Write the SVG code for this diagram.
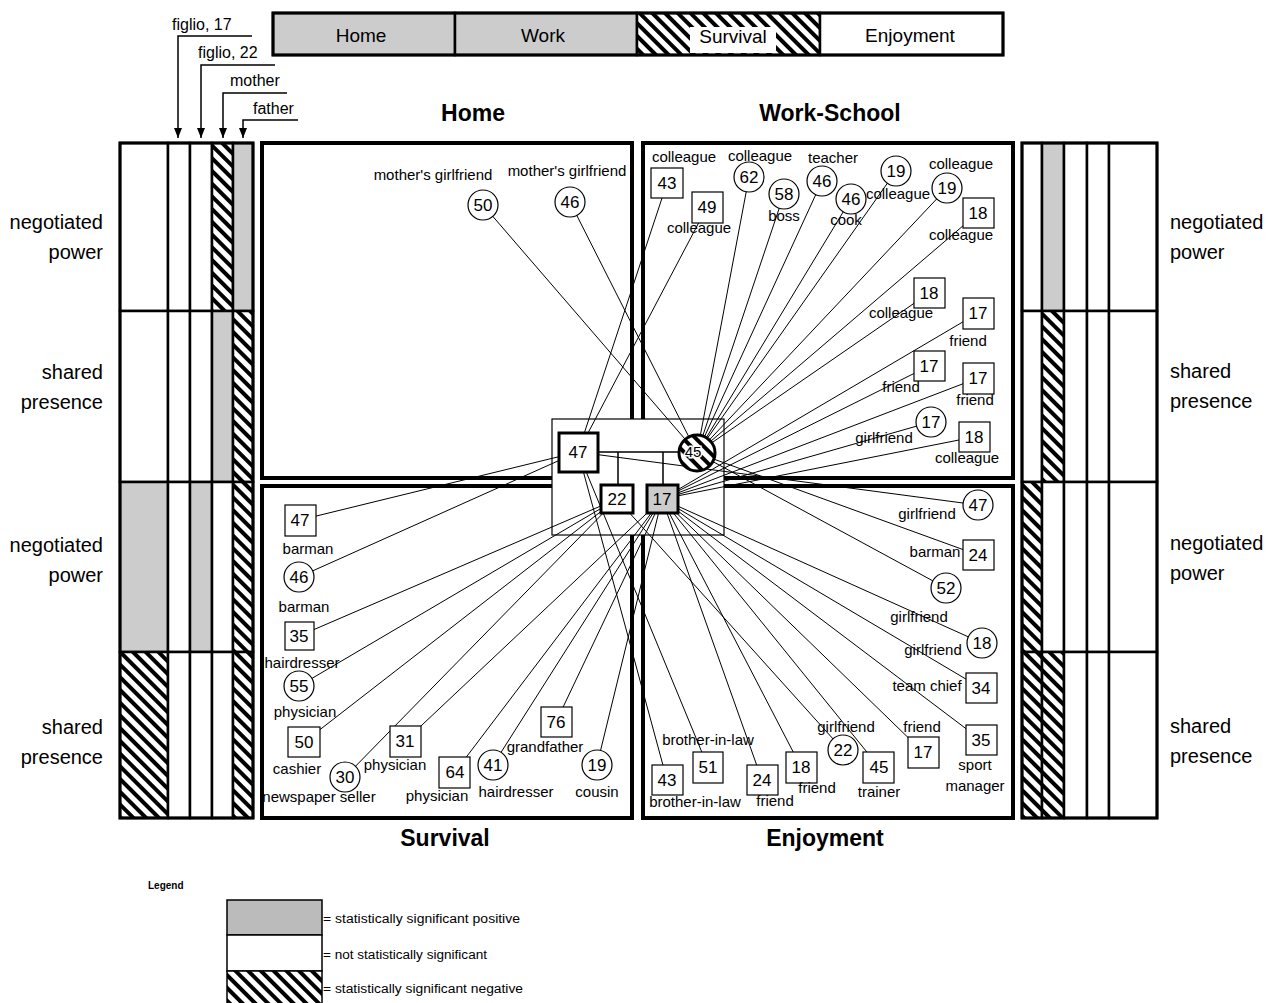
<svg xmlns="http://www.w3.org/2000/svg" width="1276" height="1003" viewBox="0 0 1276 1003">
<defs>
<pattern id="hatch" patternUnits="userSpaceOnUse" width="9" height="9" patternTransform="rotate(-45)"><rect width="9" height="9" fill="#fff"/><rect width="4" height="9" fill="#000"/></pattern>
<marker id="ah" viewBox="0 0 10 8" refX="10" refY="4" markerWidth="10" markerHeight="8" markerUnits="userSpaceOnUse" orient="auto"><path d="M0,0 L10,4 L0,8 z" fill="#000"/></marker>
</defs>
<style>
text{font-family:"Liberation Sans",Arial,sans-serif;fill:#000}
.cell{stroke:#000;stroke-width:2.5}
.w{fill:#fff}.g{fill:#cccccc}.h{fill:url(#hatch)}
.q{fill:none;stroke:#000;stroke-width:4}
.cn line{stroke:#000;stroke-width:1}
.n{fill:#fff;stroke:#000;stroke-width:1.2}
.k{fill:#fff;stroke:#000;stroke-width:3}
.num{font-size:17px;text-anchor:middle}
.lb{font-size:15px;text-anchor:middle}
.side{font-size:20px}
.title{font-size:23px;font-weight:bold;text-anchor:middle}
.bar{font-size:19px;text-anchor:middle}
.arr{font-size:16px}
.leg{font-size:12px}
</style>
<rect width="1276" height="1003" fill="#fff"/>

<!-- top legend bar -->
<g id="topbar">
<rect class="cell g" x="273" y="13" width="182" height="42"/>
<rect class="cell g" x="455" y="13" width="182" height="42"/>
<rect class="cell h" x="637" y="13" width="183" height="42"/>
<rect x="690" y="27" width="86" height="26" fill="#fff"/>
<rect class="cell w" x="820" y="13" width="183" height="42"/>
<rect x="273" y="13" width="730" height="42" fill="none" stroke="#000" stroke-width="3"/>
<text class="bar" x="361" y="42">Home</text>
<text class="bar" x="543" y="42">Work</text>
<text class="bar" x="733" y="43">Survival</text>
<text class="bar" x="910" y="42">Enjoyment</text>
</g>

<!-- arrows to left bar -->
<g id="arrows" fill="none" stroke="#000" stroke-width="1.5">
<path d="M252,36 H178 V138" marker-end="url(#ah)"/>
<path d="M275,65 H201 V138" marker-end="url(#ah)"/>
<path d="M287,93 H223 V138" marker-end="url(#ah)"/>
<path d="M298,120 H243 V138" marker-end="url(#ah)"/>
</g>
<text class="arr" x="172" y="30">figlio, 17</text>
<text class="arr" x="198" y="58">figlio, 22</text>
<text class="arr" x="230" y="86">mother</text>
<text class="arr" x="253" y="114">father</text>

<!-- left bar -->
<g id="leftbar">
<rect class="cell w" x="120" y="143" width="48" height="168"/>
<rect class="cell w" x="168" y="143" width="22" height="168"/>
<rect class="cell w" x="190" y="143" width="22" height="168"/>
<rect class="cell h" x="212" y="143" width="21" height="168"/>
<rect class="cell g" x="233" y="143" width="20" height="168"/>
<rect class="cell w" x="120" y="311" width="48" height="171"/>
<rect class="cell w" x="168" y="311" width="22" height="171"/>
<rect class="cell w" x="190" y="311" width="22" height="171"/>
<rect class="cell g" x="212" y="311" width="21" height="171"/>
<rect class="cell h" x="233" y="311" width="20" height="171"/>
<rect class="cell g" x="120" y="482" width="48" height="170"/>
<rect class="cell w" x="168" y="482" width="22" height="170"/>
<rect class="cell g" x="190" y="482" width="22" height="170"/>
<rect class="cell w" x="212" y="482" width="21" height="170"/>
<rect class="cell h" x="233" y="482" width="20" height="170"/>
<rect class="cell h" x="120" y="652" width="48" height="166"/>
<rect class="cell w" x="168" y="652" width="22" height="166"/>
<rect class="cell w" x="190" y="652" width="22" height="166"/>
<rect class="cell w" x="212" y="652" width="21" height="166"/>
<rect class="cell h" x="233" y="652" width="20" height="166"/>
<rect x="120" y="143" width="133" height="675" fill="none" stroke="#000" stroke-width="3"/>
</g>

<!-- right bar -->
<g id="rightbar">
<rect class="cell w" x="1022" y="143" width="20" height="168"/>
<rect class="cell g" x="1042" y="143" width="22" height="168"/>
<rect class="cell w" x="1064" y="143" width="23" height="168"/>
<rect class="cell w" x="1087" y="143" width="22" height="168"/>
<rect class="cell w" x="1109" y="143" width="48" height="168"/>
<rect class="cell w" x="1022" y="311" width="20" height="171"/>
<rect class="cell h" x="1042" y="311" width="22" height="171"/>
<rect class="cell w" x="1064" y="311" width="23" height="171"/>
<rect class="cell w" x="1087" y="311" width="22" height="171"/>
<rect class="cell w" x="1109" y="311" width="48" height="171"/>
<rect class="cell h" x="1022" y="482" width="20" height="170"/>
<rect class="cell w" x="1042" y="482" width="22" height="170"/>
<rect class="cell w" x="1064" y="482" width="23" height="170"/>
<rect class="cell w" x="1087" y="482" width="22" height="170"/>
<rect class="cell w" x="1109" y="482" width="48" height="170"/>
<rect class="cell h" x="1022" y="652" width="20" height="166"/>
<rect class="cell h" x="1042" y="652" width="22" height="166"/>
<rect class="cell w" x="1064" y="652" width="23" height="166"/>
<rect class="cell w" x="1087" y="652" width="22" height="166"/>
<rect class="cell w" x="1109" y="652" width="48" height="166"/>
<rect x="1022" y="143" width="135" height="675" fill="none" stroke="#000" stroke-width="3"/>
</g>

<!-- side labels -->
<g id="sidelabels" class="side">
<text x="103" y="229" text-anchor="end">negotiated</text>
<text x="103" y="259" text-anchor="end">power</text>
<text x="103" y="379" text-anchor="end">shared</text>
<text x="103" y="409" text-anchor="end">presence</text>
<text x="103" y="552" text-anchor="end">negotiated</text>
<text x="103" y="582" text-anchor="end">power</text>
<text x="103" y="734" text-anchor="end">shared</text>
<text x="103" y="764" text-anchor="end">presence</text>
<text x="1170" y="229">negotiated</text>
<text x="1170" y="259">power</text>
<text x="1170" y="378">shared</text>
<text x="1170" y="408">presence</text>
<text x="1170" y="550">negotiated</text>
<text x="1170" y="580">power</text>
<text x="1170" y="733">shared</text>
<text x="1170" y="763">presence</text>
</g>

<!-- quadrants -->
<g id="quadrants">
<rect class="q" x="262" y="143" width="370" height="335"/>
<rect class="q" x="643" y="143" width="370" height="335"/>
<rect class="q" x="262" y="486" width="370" height="332"/>
<rect class="q" x="643" y="486" width="370" height="332"/>
<text class="title" x="473" y="121">Home</text>
<text class="title" x="830" y="121">Work-School</text>
<text class="title" x="445" y="846">Survival</text>
<text class="title" x="825" y="846">Enjoyment</text>
</g>

<rect id="centerbox" x="552" y="419" width="172" height="116" fill="#fff" stroke="#000" stroke-width="1.2"/>

<!-- connectors -->
<g id="connectors" class="cn">
<line x1="483" y1="205" x2="697" y2="453"/>
<line x1="570" y1="202" x2="697" y2="453"/>
<line x1="667" y1="183" x2="578" y2="452"/>
<line x1="707" y1="207" x2="578" y2="452"/>
<line x1="749" y1="177" x2="697" y2="453"/>
<line x1="784" y1="194" x2="697" y2="453"/>
<line x1="822" y1="181" x2="697" y2="453"/>
<line x1="851" y1="199" x2="697" y2="453"/>
<line x1="896" y1="171" x2="697" y2="453"/>
<line x1="947" y1="188" x2="697" y2="453"/>
<line x1="978" y1="213" x2="697" y2="453"/>
<line x1="929" y1="293" x2="697" y2="453"/>
<line x1="978" y1="313" x2="662" y2="499"/>
<line x1="929" y1="366" x2="662" y2="499"/>
<line x1="978" y1="378" x2="662" y2="499"/>
<line x1="931" y1="422" x2="662" y2="499"/>
<line x1="974" y1="437" x2="662" y2="499"/>
<line x1="300" y1="520" x2="578" y2="452"/>
<line x1="299" y1="577" x2="578" y2="452"/>
<line x1="299" y1="636" x2="617" y2="499"/>
<line x1="299" y1="686" x2="617" y2="499"/>
<line x1="304" y1="742" x2="617" y2="499"/>
<line x1="345" y1="777" x2="617" y2="499"/>
<line x1="405" y1="741" x2="662" y2="499"/>
<line x1="455" y1="772" x2="662" y2="499"/>
<line x1="493" y1="765" x2="662" y2="499"/>
<line x1="556" y1="722" x2="662" y2="499"/>
<line x1="597" y1="765" x2="662" y2="499"/>
<line x1="978" y1="505" x2="578" y2="452"/>
<line x1="978" y1="555" x2="697" y2="453"/>
<line x1="946" y1="588" x2="697" y2="453"/>
<line x1="982" y1="643" x2="662" y2="499"/>
<line x1="981" y1="688" x2="662" y2="499"/>
<line x1="981" y1="740" x2="662" y2="499"/>
<line x1="923" y1="752" x2="662" y2="499"/>
<line x1="879" y1="767" x2="662" y2="499"/>
<line x1="843" y1="750" x2="617" y2="499"/>
<line x1="801" y1="767" x2="662" y2="499"/>
<line x1="762" y1="780" x2="662" y2="499"/>
<line x1="708" y1="767" x2="578" y2="452"/>
<line x1="667" y1="780" x2="578" y2="452"/>
</g>

<!-- family structure -->
<g id="family" fill="none" stroke="#000" stroke-width="1.5">
<path d="M598,452 H680 M618,452 V485 M663,452 V485"/>
</g>
<g id="father"><rect class="k" x="559" y="433" width="39" height="39"/><text class="num" x="578" y="458">47</text></g>
<g id="mother"><circle cx="697" cy="453" r="18" fill="url(#hatch)" stroke="#000" stroke-width="3"/><text x="693" y="457" font-size="15" text-anchor="middle" stroke="#fff" stroke-width="3" paint-order="stroke">45</text></g>
<g id="son22"><rect class="k" x="601" y="485" width="32" height="28"/><text class="num" x="617" y="505">22</text></g>
<g id="son17"><rect class="k" x="647" y="485" width="31" height="28" style="fill:#cccccc"/><text class="num" x="662" y="505">17</text></g>

<!-- Home nodes -->
<g id="h1"><circle class="n" cx="483" cy="205" r="15"/><text class="num" x="483" y="211">50</text><text class="lb" x="433" y="180" font-size="14.5">mother's girlfriend</text></g>
<g id="h2"><circle class="n" cx="570" cy="202" r="15"/><text class="num" x="570" y="208">46</text><text class="lb" x="567" y="176" font-size="14.5">mother's girlfriend</text></g>

<!-- Work-School nodes -->
<g id="w1"><rect class="n" x="651" y="168" width="32" height="30"/><text class="num" x="667" y="189">43</text><text class="lb" x="684" y="162">colleague</text></g>
<g id="w2"><rect class="n" x="692" y="192" width="31" height="31"/><text class="num" x="707" y="213">49</text><text class="lb" x="699" y="233">colleague</text></g>
<g id="w3"><circle class="n" cx="749" cy="177" r="15"/><text class="num" x="749" y="183">62</text><text class="lb" x="760" y="161">colleague</text></g>
<g id="w4"><circle class="n" cx="784" cy="194" r="15"/><text class="num" x="784" y="200">58</text><text class="lb" x="784" y="221">boss</text></g>
<g id="w5"><circle class="n" cx="822" cy="181" r="15"/><text class="num" x="822" y="187">46</text><text class="lb" x="833" y="163">teacher</text></g>
<g id="w6"><circle class="n" cx="851" cy="199" r="15"/><text class="num" x="851" y="205">46</text><text class="lb" x="846" y="225">cook</text></g>
<g id="w7"><circle class="n" cx="896" cy="171" r="15"/><text class="num" x="896" y="177">19</text><text class="lb" x="898" y="199">colleague</text></g>
<g id="w8"><circle class="n" cx="947" cy="188" r="15"/><text class="num" x="947" y="194">19</text><text class="lb" x="961" y="169">colleague</text></g>
<g id="w9"><rect class="n" x="963" y="198" width="31" height="30"/><text class="num" x="978" y="219">18</text><text class="lb" x="961" y="240">colleague</text></g>
<g id="w10"><rect class="n" x="914" y="278" width="31" height="30"/><text class="num" x="929" y="299">18</text><text class="lb" x="901" y="318">colleague</text></g>
<g id="w11"><rect class="n" x="963" y="298" width="31" height="31"/><text class="num" x="978" y="319">17</text><text class="lb" x="968" y="346">friend</text></g>
<g id="w12"><rect class="n" x="914" y="351" width="31" height="30"/><text class="num" x="929" y="372">17</text><text class="lb" x="901" y="392">friend</text></g>
<g id="w13"><rect class="n" x="963" y="363" width="31" height="31"/><text class="num" x="978" y="384">17</text><text class="lb" x="975" y="405">friend</text></g>
<g id="w14"><circle class="n" cx="931" cy="422" r="15"/><text class="num" x="931" y="428">17</text><text class="lb" x="884" y="443">girlfriend</text></g>
<g id="w15"><rect class="n" x="959" y="422" width="31" height="30"/><text class="num" x="974" y="443">18</text><text class="lb" x="967" y="463">colleague</text></g>

<!-- Survival nodes -->
<g id="s1"><rect class="n" x="285" y="505" width="31" height="31"/><text class="num" x="300" y="526">47</text><text class="lb" x="308" y="554">barman</text></g>
<g id="s2"><circle class="n" cx="299" cy="577" r="15"/><text class="num" x="299" y="583">46</text><text class="lb" x="304" y="612">barman</text></g>
<g id="s3"><rect class="n" x="285" y="622" width="29" height="28"/><text class="num" x="299" y="642">35</text><text class="lb" x="302" y="668">hairdresser</text></g>
<g id="s4"><circle class="n" cx="299" cy="686" r="15"/><text class="num" x="299" y="692">55</text><text class="lb" x="305" y="717">physician</text></g>
<g id="s5"><rect class="n" x="288" y="727" width="32" height="30"/><text class="num" x="304" y="748">50</text><text class="lb" x="297" y="774">cashier</text></g>
<g id="s6"><circle class="n" cx="345" cy="777" r="15"/><text class="num" x="345" y="783">30</text><text class="lb" x="319" y="802">newspaper seller</text></g>
<g id="s7"><rect class="n" x="390" y="726" width="31" height="31"/><text class="num" x="405" y="747">31</text><text class="lb" x="395" y="770">physician</text></g>
<g id="s8"><rect class="n" x="439" y="757" width="31" height="31"/><text class="num" x="455" y="778">64</text><text class="lb" x="437" y="801">physician</text></g>
<g id="s9"><circle class="n" cx="493" cy="765" r="15"/><text class="num" x="493" y="771">41</text><text class="lb" x="516" y="797">hairdresser</text></g>
<g id="s10"><rect class="n" x="541" y="707" width="31" height="30"/><text class="num" x="556" y="728">76</text><text class="lb" x="545" y="752">grandfather</text></g>
<g id="s11"><circle class="n" cx="597" cy="765" r="15"/><text class="num" x="597" y="771">19</text><text class="lb" x="597" y="797">cousin</text></g>

<!-- Enjoyment nodes -->
<g id="e1"><circle class="n" cx="978" cy="505" r="15"/><text class="num" x="978" y="511">47</text><text class="lb" x="927" y="519">girlfriend</text></g>
<g id="e2"><rect class="n" x="963" y="540" width="31" height="30"/><text class="num" x="978" y="561">24</text><text class="lb" x="935" y="557">barman</text></g>
<g id="e3"><circle class="n" cx="946" cy="588" r="15"/><text class="num" x="946" y="594">52</text><text class="lb" x="919" y="622">girlfriend</text></g>
<g id="e4"><circle class="n" cx="982" cy="643" r="15"/><text class="num" x="982" y="649">18</text><text class="lb" x="933" y="655">girlfriend</text></g>
<g id="e5"><rect class="n" x="966" y="673" width="31" height="30"/><text class="num" x="981" y="694">34</text><text class="lb" x="927" y="691">team chief</text></g>
<g id="e6"><rect class="n" x="966" y="725" width="31" height="30"/><text class="num" x="981" y="746">35</text><text class="lb" x="975" y="770">sport</text><text class="lb" x="975" y="791">manager</text></g>
<g id="e7"><rect class="n" x="908" y="737" width="31" height="31"/><text class="num" x="923" y="758">17</text><text class="lb" x="922" y="732">friend</text></g>
<g id="e8"><rect class="n" x="863" y="752" width="31" height="31"/><text class="num" x="879" y="773">45</text><text class="lb" x="879" y="797">trainer</text></g>
<g id="e9"><circle class="n" cx="843" cy="750" r="15"/><text class="num" x="843" y="756">22</text><text class="lb" x="846" y="732">girlfriend</text></g>
<g id="e10"><rect class="n" x="786" y="752" width="31" height="31"/><text class="num" x="801" y="773">18</text><text class="lb" x="817" y="793">friend</text></g>
<g id="e11"><rect class="n" x="747" y="765" width="31" height="30"/><text class="num" x="762" y="786">24</text><text class="lb" x="775" y="806">friend</text></g>
<g id="e12"><rect class="n" x="693" y="752" width="30" height="31"/><text class="num" x="708" y="773">51</text><text class="lb" x="708" y="745">brother-in-law</text></g>
<g id="e13"><rect class="n" x="652" y="765" width="31" height="30"/><text class="num" x="667" y="786">43</text><text class="lb" x="695" y="807">brother-in-law</text></g>

<!-- legend -->
<g id="legend">
<text x="148" y="889" font-size="10" font-weight="bold">Legend</text>
<rect x="227" y="900" width="95" height="35" fill="#bbbbbb" stroke="#000" stroke-width="1.5"/>
<rect x="227" y="935" width="95" height="36" fill="#fff" stroke="#000" stroke-width="1.5"/>
<rect x="227" y="971" width="95" height="40" fill="url(#hatch)" stroke="#000" stroke-width="1.5"/>
<text class="leg" x="323" y="923" textLength="197" lengthAdjust="spacingAndGlyphs">= statistically significant positive</text>
<text class="leg" x="323" y="959" textLength="164" lengthAdjust="spacingAndGlyphs">= not statistically significant</text>
<text class="leg" x="323" y="993" textLength="200" lengthAdjust="spacingAndGlyphs">= statistically significant negative</text>
</g>
</svg>
